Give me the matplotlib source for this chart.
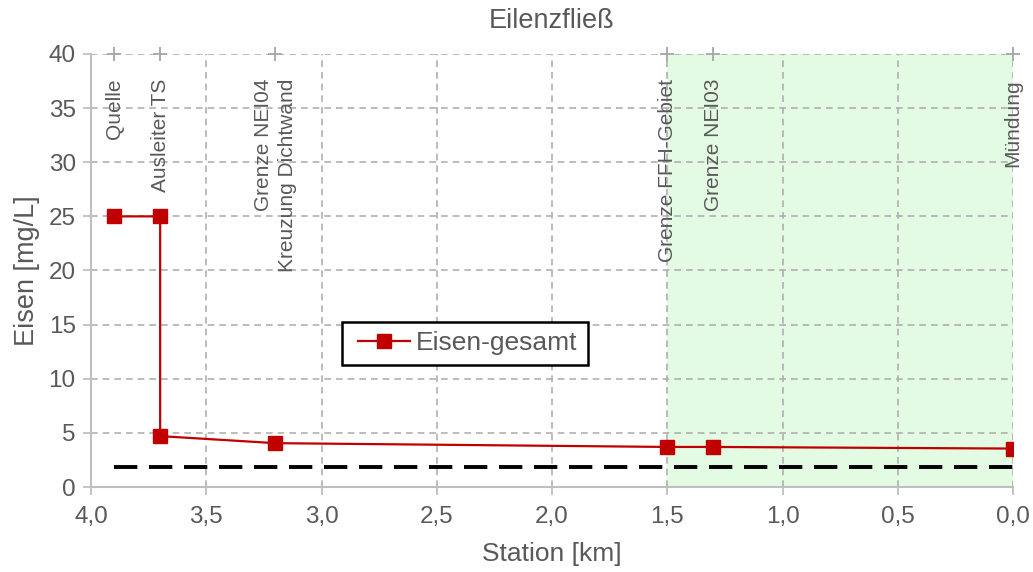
import numpy as np
import matplotlib
matplotlib.use("Agg")
import matplotlib.pyplot as plt
from matplotlib.patches import Rectangle

plt.rcParams['font.family'] = ['Liberation Sans', 'DejaVu Sans']

# data
station = [3.9, 3.7, 3.7, 3.2, 1.5, 1.3, 0.0]
eisen = [25.0, 25.0, 4.7, 4.05, 3.7, 3.7, 3.55]

mark_x = [3.9, 3.7, 3.2, 1.5, 1.3, 0.0]
mark_labels = ['Quelle', 'Ausleiter TS', 'Grenze NEI04\nKreuzung Dichtwand',
               'Grenze FFH-Gebiet', 'Grenze NEI03', 'Mündung']

limit_x = [3.9, 0.0]
limit_y = [1.85, 1.85]

ffh_range = [1.5, 0.0]

xticks = [4.0, 3.5, 3.0, 2.5, 2.0, 1.5, 1.0, 0.5, 0.0]
yticks = [0, 5, 10, 15, 20, 25, 30, 35, 40]

gray = '#595959'
grid_c = '#BFBFBF'

fig = plt.figure(figsize=(10.33, 5.72), dpi=100)
ax = fig.add_axes([0.0881, 0.1486, 0.8926, 0.757])

ax.axvspan(ffh_range[0], ffh_range[1], color='#E2FBE2', zorder=0, lw=0)

ax.set_xlim(4.0, 0.0)
ax.set_ylim(0, 40)
ax.set_xticks(xticks)
ax.set_yticks(yticks)
ax.set_xticklabels([f"{v:.1f}".replace('.', ',') for v in xticks])
ax.set_yticklabels([str(v) for v in yticks])
ax.grid(True, color='#B0B0B0', linestyle=(0, (4, 3)), linewidth=1.2, zorder=1)
ax.set_axisbelow(True)

for s in ['top', 'right']:
    ax.spines[s].set_visible(False)
for s in ['left', 'bottom']:
    ax.spines[s].set_color(grid_c)
    ax.spines[s].set_linewidth(1.5)
ax.tick_params(axis='both', colors=grid_c, labelcolor=gray, labelsize=17.5,
               length=6, width=1.3, direction='out')
ax.tick_params(axis='x', pad=8)
ax.tick_params(axis='y', pad=5)

ax.plot(limit_x, limit_y, color='black', linestyle=(0, (6, 3)), linewidth=2.8, zorder=3)
ax.plot(station, eisen, color='#C00000', linewidth=1.6, marker='s', markersize=10,
        label='Eisen-gesamt', zorder=4)

ax.scatter(mark_x, [40] * len(mark_x), marker='+', s=110, color='#A6A6A6',
           linewidths=1.3, clip_on=False, zorder=5)
for x, t in zip(mark_x, mark_labels):
    ax.text(x, 37.7, t, rotation=90, ha='center', va='top', multialignment='right',
            fontsize=15, color=gray, zorder=5, linespacing=1.35)

ax.set_title('Eilenzfließ', color=gray, fontsize=19.5, pad=19)
ax.set_xlabel('Station [km]', color=gray, fontsize=19, labelpad=10)
ax.set_ylabel('Eisen [mg/L]', color=gray, fontsize=19.5, labelpad=6)

# legend: frame drawn separately so the inner padding can differ per side
ax.add_patch(Rectangle((0.2722, 0.2818), 0.2668, 0.0993, transform=ax.transAxes,
                       facecolor='white', edgecolor='black', linewidth=1.8, zorder=6))
leg = ax.legend(loc='center left', bbox_to_anchor=(0.2896, 0.3315), frameon=False,
                fontsize=19, handlelength=1.97, handletextpad=0.23,
                borderpad=0, borderaxespad=0)
leg.set_zorder(7)
for t in leg.get_texts():
    t.set_color(gray)

fig.savefig('out.png', dpi=100)
